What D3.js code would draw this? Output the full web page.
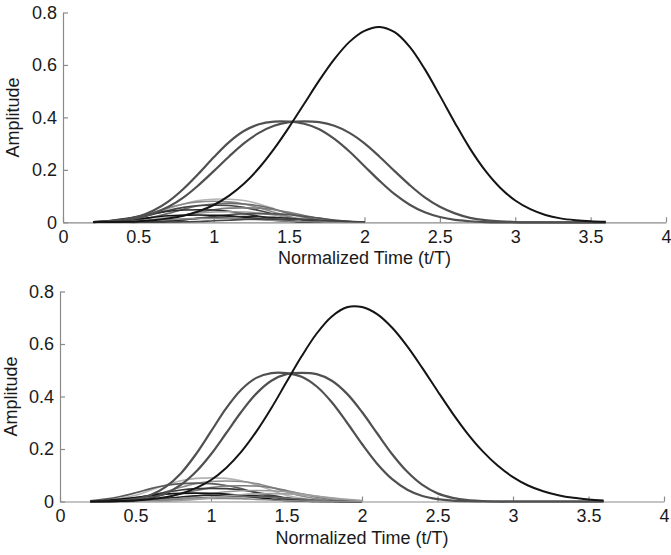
<!DOCTYPE html>
<html><head><meta charset="utf-8">
<script src="https://cdn.jsdelivr.net/npm/d3@7"></script>
<style>body{margin:0;background:#fff}</style>
</head><body>
<svg id="chart" width="671" height="555"></svg>
<script>
// ---- data ----
const timesBig = [0.2,0.3,0.4,0.5,0.6,0.7,0.8,0.9,1.0,1.1,1.2,1.3,1.4,1.5,1.6,1.7,1.8,1.9,2.0,2.1,2.2,2.3,2.4,2.5,2.6,2.7,2.8,2.9,3.0,3.1,3.2,3.3,3.4,3.5,3.6];
const timesSmall = [0.2,0.3,0.4,0.5,0.6,0.7,0.8,0.9,1.0,1.1,1.2,1.3,1.4,1.5,1.6,1.7,1.8,1.9,2.0];
const xTicks = [0,0.5,1,1.5,2,2.5,3,3.5,4];
const yTicks = [0,0.2,0.4,0.6,0.8];
const xLabel = "Normalized Time (t/T)";
const yLabel = "Amplitude";

const topBlack = [0.001,0.001,0.002,0.004,0.008,0.015,0.025,0.042,0.066,0.101,0.147,0.207,0.280,0.363,0.452,0.541,0.622,0.688,0.730,0.745,0.725,0.669,0.584,0.483,0.379,0.281,0.198,0.132,0.083,0.050,0.028,0.015,0.008,0.004,0.002];
const topGrey1 = [0.001,0.004,0.010,0.022,0.045,0.080,0.128,0.186,0.248,0.305,0.348,0.374,0.384,0.384,0.376,0.355,0.318,0.270,0.214,0.158,0.107,0.067,0.038,0.020,0.009,0.004,0.001,0,0,0,0,0,0,0,0];
const topGrey2 = [0.001,0.004,0.008,0.017,0.034,0.059,0.095,0.142,0.195,0.250,0.301,0.341,0.368,0.382,0.385,0.382,0.368,0.341,0.301,0.250,0.195,0.142,0.095,0.059,0.034,0.017,0.008,0.004,0.001,0,0,0,0,0,0];
const topSmall = [
  [0.001,0.002,0.007,0.017,0.032,0.052,0.070,0.083,0.088,0.088,0.083,0.070,0.052,0.032,0.017,0.007,0.002,0.001,0],
  [0.001,0.004,0.010,0.022,0.038,0.056,0.070,0.078,0.080,0.078,0.070,0.056,0.038,0.022,0.010,0.004,0.001,0,0],
  [0,0.001,0.004,0.009,0.020,0.034,0.050,0.063,0.070,0.072,0.070,0.063,0.050,0.034,0.020,0.009,0.004,0.001,0],
  [0.001,0.003,0.008,0.018,0.031,0.045,0.057,0.064,0.065,0.064,0.057,0.045,0.031,0.018,0.008,0.003,0.001,0,0],
  [0,0,0.001,0.003,0.007,0.015,0.026,0.038,0.048,0.054,0.055,0.054,0.048,0.038,0.026,0.015,0.007,0.003,0.001],
  [0.002,0.006,0.013,0.023,0.033,0.042,0.047,0.048,0.047,0.042,0.033,0.023,0.013,0.006,0.002,0.001,0,0,0],
  [0,0.001,0.002,0.005,0.011,0.019,0.028,0.035,0.039,0.040,0.039,0.035,0.028,0.019,0.011,0.005,0.002,0.001,0],
  [0,0,0,0,0.002,0.004,0.009,0.016,0.023,0.029,0.032,0.033,0.032,0.029,0.023,0.016,0.009,0.004,0.002],
  [0.001,0.004,0.008,0.013,0.019,0.025,0.027,0.028,0.027,0.025,0.019,0.013,0.008,0.004,0.001,0,0,0,0],
  [0,0,0,0.001,0.003,0.006,0.010,0.015,0.019,0.021,0.022,0.021,0.019,0.015,0.010,0.006,0.003,0.001,0],
  [0,0.001,0.002,0.004,0.007,0.010,0.013,0.015,0.015,0.015,0.013,0.010,0.007,0.004,0.002,0.001,0,0,0],
  [0,0,0,0,0,0.001,0.002,0.003,0.006,0.008,0.011,0.012,0.012,0.012,0.011,0.008,0.006,0.003,0.002]
];
const topSmallColors = ["#b4b4b4","#8c8c8c","#6a6a6a","#444444","#7c7c7c","#2a2a2a","#9c9c9c","#555555","#111111","#222222","#888888","#444444"];

const botBlack = [0,0.001,0.002,0.004,0.009,0.016,0.030,0.051,0.082,0.128,0.189,0.266,0.356,0.455,0.553,0.640,0.705,0.740,0.741,0.714,0.662,0.591,0.508,0.421,0.336,0.258,0.191,0.136,0.093,0.061,0.039,0.024,0.014,0.008,0.004];
const botGrey1 = [0,0.001,0.003,0.010,0.025,0.056,0.107,0.180,0.267,0.355,0.426,0.471,0.489,0.489,0.475,0.438,0.378,0.301,0.219,0.144,0.085,0.045,0.021,0.009,0.003,0.001,0,0,0,0,0,0,0,0,0];
const botGrey2 = [0,0,0.002,0.005,0.014,0.031,0.063,0.113,0.180,0.260,0.341,0.411,0.460,0.485,0.490,0.485,0.460,0.411,0.341,0.260,0.180,0.113,0.063,0.031,0.014,0.005,0.002,0,0,0,0,0,0,0,0];
const botSmall = [
  [0.001,0.004,0.012,0.024,0.043,0.063,0.079,0.088,0.090,0.088,0.079,0.063,0.043,0.024,0.012,0.004,0.001,0,0],
  [0,0.001,0.004,0.010,0.021,0.037,0.054,0.068,0.076,0.078,0.076,0.068,0.054,0.037,0.021,0.010,0.004,0.001,0],
  [0.003,0.009,0.019,0.033,0.049,0.061,0.068,0.070,0.068,0.061,0.049,0.033,0.019,0.009,0.003,0.001,0,0,0],
  [0,0,0.001,0.003,0.008,0.016,0.029,0.042,0.053,0.059,0.060,0.059,0.053,0.042,0.029,0.016,0.008,0.003,0.001],
  [0.001,0.002,0.006,0.014,0.024,0.035,0.044,0.049,0.050,0.049,0.044,0.035,0.024,0.014,0.006,0.002,0.001,0,0],
  [0,0,0,0.001,0.002,0.005,0.011,0.020,0.029,0.037,0.041,0.042,0.041,0.037,0.029,0.020,0.011,0.005,0.002],
  [0.002,0.004,0.009,0.015,0.022,0.028,0.031,0.032,0.031,0.028,0.022,0.015,0.009,0.004,0.002,0,0,0,0],
  [0,0,0.001,0.003,0.007,0.012,0.017,0.022,0.024,0.025,0.024,0.022,0.017,0.012,0.007,0.003,0.001,0,0],
  [0,0,0,0.001,0.002,0.005,0.009,0.013,0.016,0.018,0.018,0.018,0.016,0.013,0.009,0.005,0.002,0.001,0],
  [0,0.001,0.002,0.003,0.006,0.008,0.011,0.012,0.012,0.012,0.011,0.008,0.006,0.003,0.002,0.001,0,0,0],
  [0,0,0,0,0,0.001,0.004,0.008,0.014,0.021,0.026,0.029,0.030,0.029,0.026,0.021,0.014,0.008,0.004]
];
const botSmallColors = ["#b4b4b4","#8c8c8c","#5a5a5a","#7a7a7a","#3a3a3a","#999999","#111111","#222222","#666666","#888888","#a0a0a0"];

// ---- drawing ----
const svg = d3.select("#chart");
svg.append("rect").attr("width",671).attr("height",555).attr("fill","#fff");
const FONT = "'Liberation Sans', Arial, Helvetica, sans-serif";

const panels = [
  {left:63, right:666, bottom:222.3, top:12.5, labelX:19,
   black:topBlack, greys:[topGrey1, topGrey2], small:topSmall, smallColors:topSmallColors},
  {left:60, right:664, bottom:501.5, top:291.5, labelX:17,
   black:botBlack, greys:[botGrey1, botGrey2], small:botSmall, smallColors:botSmallColors}
];

panels.forEach(p => {
  const x = d3.scaleLinear().domain([0,4]).range([p.left, p.right]);
  const y = d3.scaleLinear().domain([0,0.8]).range([p.bottom, p.top]);
  const g = svg.append("g");

  const lineFor = (ts) => d3.line()
    .x((d,i) => x(ts[i])).y(d => y(Math.max(0,d)))
    .curve(d3.curveCatmullRom.alpha(0.5));

  const fmt = d3.format("~g");
  const xa = g.append("g").attr("transform",`translate(0,${p.bottom})`)
    .call(d3.axisBottom(x).tickValues(xTicks).tickFormat(fmt).tickSizeInner(-5).tickSizeOuter(0).tickPadding(8));
  const ya = g.append("g").attr("transform",`translate(${p.left},0)`)
    .call(d3.axisLeft(y).tickValues(yTicks).tickFormat(fmt).tickSizeInner(-5).tickSizeOuter(0).tickPadding(6));
  [xa, ya].forEach(a => {
    a.select(".domain").attr("stroke","#8a8a8a").attr("stroke-width",1.2);
    a.selectAll(".tick line").attr("stroke","#8a8a8a").attr("stroke-width",1.2);
    a.selectAll("text").attr("fill","#1a1a1a").style("font-family",FONT).style("font-size","18px");
  });

  p.small.forEach((vals, k) => {
    g.append("path").datum(vals).attr("d", lineFor(timesSmall))
      .attr("fill","none").attr("stroke", p.smallColors[k]).attr("stroke-width",1.6);
  });
  p.greys.forEach(vals => {
    g.append("path").datum(vals).attr("d", lineFor(timesBig))
      .attr("fill","none").attr("stroke","#505050").attr("stroke-width",2.2);
  });
  g.append("path").datum(p.black).attr("d", lineFor(timesBig))
    .attr("fill","none").attr("stroke","#141414").attr("stroke-width",2);

  g.append("text").attr("x",(p.left+p.right)/2).attr("y",p.bottom+42)
    .attr("text-anchor","middle").attr("fill","#1a1a1a")
    .style("font-family",FONT).style("font-size","18px").text(xLabel);
  g.append("text").attr("transform",`translate(${p.labelX},${(p.top+p.bottom)/2}) rotate(-90)`)
    .attr("text-anchor","middle").attr("fill","#1a1a1a")
    .style("font-family",FONT).style("font-size","18px").text(yLabel);
});
</script>
</body></html>
